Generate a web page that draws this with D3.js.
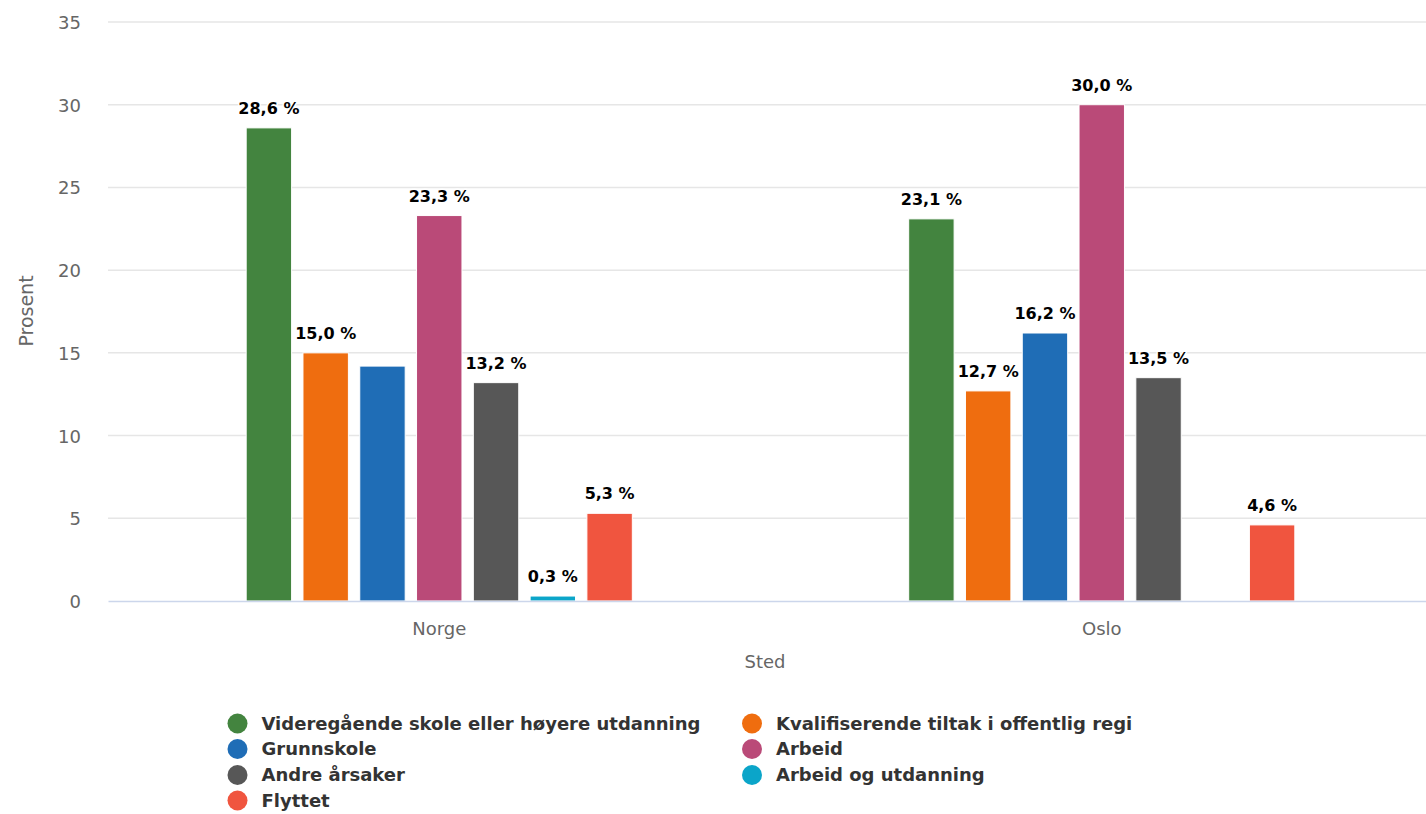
<!DOCTYPE html>
<html><head><meta charset="utf-8">
<script src="https://cdn.jsdelivr.net/npm/d3@7"></script>
<style>
body{margin:0;background:#fff;}
svg{display:block;font-family:"DejaVu Sans",sans-serif;}
</style></head>
<body><svg id="c" width="1426" height="814"></svg>
<script>
const categories = ["Norge", "Oslo"];
const seriesNames = ["Videregående skole eller høyere utdanning", "Kvalifiserende tiltak i offentlig regi", "Grunnskole", "Arbeid", "Andre årsaker", "Arbeid og utdanning", "Flyttet"];
const seriesColors = ["#43843f", "#ef6d0f", "#1f6db6", "#ba4a78", "#575757", "#0ba5c9", "#f0553f"];
const norgeValues = [28.6, 15.0, 14.2, 23.3, 13.2, 0.3, 5.3];
const osloValues = [23.1, 12.7, 16.2, 30.0, 13.5, null, 4.6];
const hiddenLabels = [[false, false, true, false, false, false, false], [false, false, false, false, false, false, false]];
const yTicks = [0, 5, 10, 15, 20, 25, 30, 35];
const yTitle = "Prosent";
const xTitle = "Sted";

const values = [norgeValues, osloValues];
const FONT = "DejaVu Sans, sans-serif";
const svg = d3.select("#c");
const pLeft = 108, pRight = 1433, pTop = 22, pBottom = 601;

const y = d3.scaleLinear().domain([0, 35]).range([pBottom, pTop]);
const x0 = d3.scaleBand().domain(categories).range([pLeft, pRight]).padding(0);
const gw = x0.bandwidth();
const x1 = d3.scaleBand().domain(d3.range(seriesNames.length)).range([gw * 0.2, gw * 0.8]).paddingInner(0.2).paddingOuter(0.1);

// grid
svg.append("g").selectAll("line").data(yTicks.filter(d => d > 0)).join("line")
  .attr("x1", pLeft).attr("x2", pRight).attr("y1", d => y(d)).attr("y2", d => y(d))
  .attr("stroke", "#e6e6e6").attr("stroke-width", 1.5);

// y axis labels
const yAxis = d3.axisLeft(y).tickValues(yTicks).tickSize(0).tickPadding(0);
const ya = svg.append("g").attr("transform", `translate(81,0)`).call(yAxis);
ya.select(".domain").remove();
ya.selectAll("text").attr("fill", "#666").style("font-size", "18px").style("font-family", FONT).attr("dy", "0.36em");

// bars
categories.forEach((c, ci) => {
  const g = svg.append("g").attr("transform", `translate(${x0(c)},0)`);
  values[ci].forEach((v, si) => {
    if (v === null) return;
    g.append("rect")
      .attr("x", x1(si)).attr("width", x1.bandwidth())
      .attr("y", y(v)).attr("height", y(0) - y(v))
      .attr("fill", seriesColors[si]).attr("stroke", "#fff").attr("stroke-width", 1);
  });
});

// x axis
const xAxis = d3.axisBottom(x0).tickSize(0).tickPadding(0);
const xa = svg.append("g").attr("transform", `translate(0,${pBottom})`).call(xAxis);
xa.select(".domain").attr("stroke", "#ccd6eb").attr("stroke-width", 1.5);
xa.selectAll("text").attr("fill", "#666").style("font-size", "18px").style("font-family", FONT).attr("y", 34).attr("dy", "0");

// value labels
categories.forEach((c, ci) => {
  const g = svg.append("g").attr("transform", `translate(${x0(c)},0)`);
  values[ci].forEach((v, si) => {
    if (v === null || hiddenLabels[ci][si]) return;
    const txt = d3.format(".1f")(v).replace(".", ",") + " %";
    const t = g.append("text")
      .attr("x", x1(si) + x1.bandwidth() / 2).attr("y", y(v) - 14)
      .attr("text-anchor", "middle")
      .style("font-size", "16px").style("font-weight", "bold").attr("fill", "#000")
      .text(txt);
    t.clone(true).lower().attr("stroke", "#fff").attr("stroke-width", 3).attr("stroke-linejoin", "round");
  });
});

// axis titles
svg.append("text").attr("transform", `translate(33,311) rotate(-90)`).attr("text-anchor", "middle")
  .style("font-size", "19px").attr("fill", "#666").text(yTitle);
svg.append("text").attr("x", 765).attr("y", 668).attr("text-anchor", "middle")
  .style("font-size", "18px").attr("fill", "#666").text(xTitle);

// legend
const legendCols = [237.5, 752];
const legendRows = [723.5, 749, 775, 800.5];
seriesNames.forEach((s, i) => {
  const cx = legendCols[i % 2], cy = legendRows[Math.floor(i / 2)];
  svg.append("circle").attr("cx", cx).attr("cy", cy).attr("r", 10).attr("fill", seriesColors[i]);
  svg.append("text").attr("x", cx + 24).attr("y", cy).attr("dy", "0.36em")
    .style("font-size", "18px").style("font-weight", "bold").attr("fill", "#333").text(s);
});
</script></body></html>
